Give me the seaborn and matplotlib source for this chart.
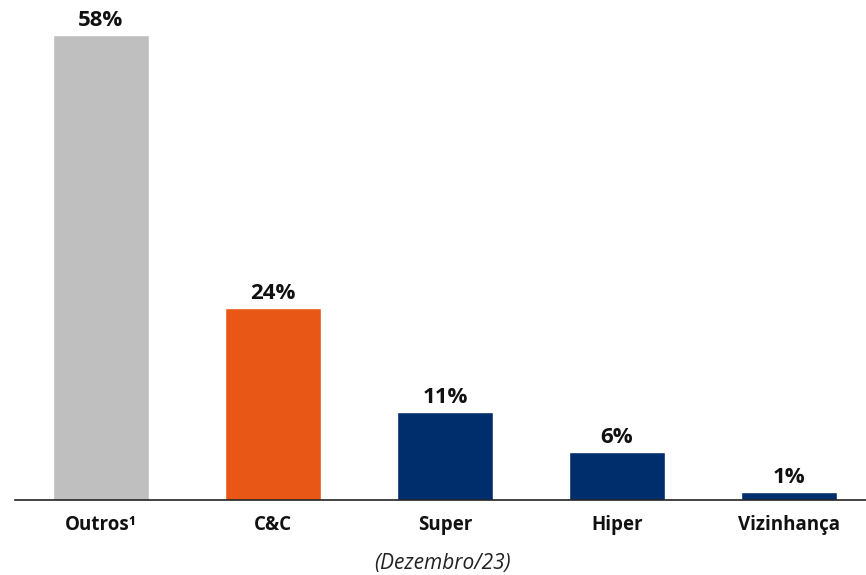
import matplotlib
matplotlib.use("Agg")
import matplotlib.pyplot as plt
import seaborn as sns
import pandas as pd

categories = ["Outros¹", "C&C", "Super", "Hiper", "Vizinhança"]
values = [58, 24, 11, 6, 1]
value_labels = ["58%", "24%", "11%", "6%", "1%"]
colors = ["#BFBFBF", "#E85716", "#002E6D", "#002E6D", "#002E6D"]
subtitle = "(Dezembro/23)"

sns.set_theme(style="white")
plt.rcParams['font.family'] = ['Open Sans', 'DejaVu Sans']

df = pd.DataFrame({"cat": categories, "val": values})

fig = plt.figure(figsize=(8.66, 5.75), dpi=100)
ax = fig.add_axes([15/866, 75/575, 851/866, 500/575])
sns.barplot(data=df, x="cat", y="val", hue="cat", palette=colors, legend=False,
            width=0.56, saturation=1, ax=ax)

for i, (v, lab) in enumerate(zip(values, value_labels)):
    ax.text(i, v + 0.5, lab, ha="center", va="bottom", fontsize=16, fontweight="bold", color="#111111")

ax.set_ylim(0, 62.4)
ax.set_xlim(-0.5, 4.448)
ax.set_xlabel("")
ax.set_ylabel("")
ax.set_yticks([])
for s in ["top", "right", "left"]:
    ax.spines[s].set_visible(False)
ax.spines["bottom"].set_color("#222222")
ax.spines["bottom"].set_linewidth(1.2)
ax.tick_params(axis="x", length=0, pad=11)
for t in ax.get_xticklabels():
    t.set_fontsize(13.5)
    t.set_fontweight("bold")
    t.set_color("#111111")

fig.text(443/866, 1 - 564/575, subtitle, ha="center", va="center", fontsize=15, style="italic", color="#222222")

fig.savefig("out.png", dpi=100)
